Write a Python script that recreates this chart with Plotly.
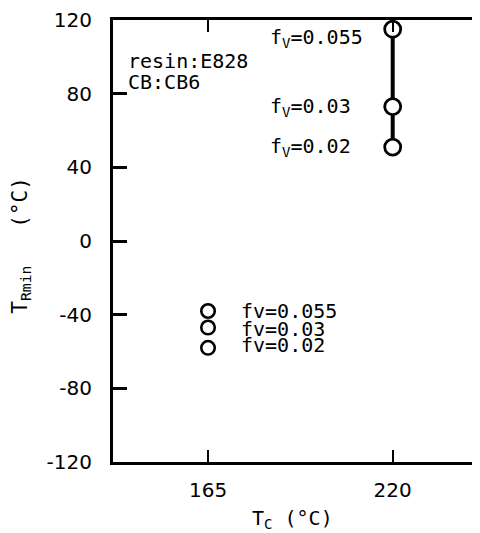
import plotly.graph_objects as go

# Data
tc_high = [220, 220, 220]
tr_high = [115, 73, 51]
labels_high = ["f<sub>V</sub>=0.055", "f<sub>V</sub>=0.03", "f<sub>V</sub>=0.02"]

tc_low = [165, 165, 165]
tr_low = [-38, -47, -58]
labels_low = ["fv=0.055", "fv=0.03", "fv=0.02"]

y_ticks = [120, 80, 40, 0, -40, -80, -120]
y_tick_labels = ["120", "80", "40", "0", "-40", "-80", "-120"]
x_ticks = [165, 220]
x_tick_labels = ["165", "220"]

FONT = "DejaVu Sans Mono"
TICKFONT = "DejaVu Sans"

fig = go.Figure()
fig.add_trace(go.Scatter(
    x=tc_high, y=tr_high, mode="lines+markers",
    line=dict(color="black", width=4),
    marker=dict(symbol="circle", size=16, color="white",
                line=dict(color="black", width=2.8)),
    showlegend=False, hoverinfo="skip"))
fig.add_trace(go.Scatter(
    x=tc_low, y=tr_low, mode="markers",
    marker=dict(symbol="circle", size=13.5, color="white",
                line=dict(color="black", width=2.6)),
    showlegend=False, hoverinfo="skip"))
# invisible trace for right y-axis ticks
fig.add_trace(go.Scatter(x=[tc_low[0]], y=[tr_low[0]], yaxis="y2", mode="markers",
                         marker=dict(opacity=0), showlegend=False, hoverinfo="skip"))

annotations = []
hi_label_y = [110.3, 72.5, 51]
for txt, yy in zip(labels_high, hi_label_y):
    annotations.append(dict(x=183.0, y=yy, xref="x", yref="y", text=txt,
                            showarrow=False, xanchor="left", yanchor="middle",
                            font=dict(family=FONT, size=20, color="black")))
lo_label_y = [-38.0, -48.0, -56.5]
for txt, yy in zip(labels_low, lo_label_y):
    annotations.append(dict(x=174.3, y=yy, xref="x", yref="y", text=txt,
                            showarrow=False, xanchor="left", yanchor="middle",
                            font=dict(family=FONT, size=20, color="black")))
annotations.append(dict(x=140.6, y=98.0, xref="x", yref="y", text="resin:E828",
                        showarrow=False, xanchor="left", yanchor="middle",
                        font=dict(family=FONT, size=20, color="black")))
annotations.append(dict(x=140.6, y=86.5, xref="x", yref="y", text="CB:CB6",
                        showarrow=False, xanchor="left", yanchor="middle",
                        font=dict(family=FONT, size=20, color="black")))
# axis titles
annotations.append(dict(x=-0.25, y=0.49, xref="paper", yref="paper",
                        text="T<sub>Rmin</sub>   (°C)", textangle=-90,
                        showarrow=False, xanchor="center", yanchor="middle",
                        font=dict(family=FONT, size=21, color="black")))
annotations.append(dict(x=0.488, y=-0.128, xref="paper", yref="paper",
                        text="T<sub>C</sub> (°C)",
                        showarrow=False, xanchor="center", yanchor="middle",
                        font=dict(family=FONT, size=20, color="black")))

fig.update_layout(
    width=472, height=525,
    margin=dict(l=105, r=0, t=8, b=71),
    paper_bgcolor="white", plot_bgcolor="white",
    font=dict(family=FONT, size=20, color="black"),
    xaxis=dict(range=[136.7, 246], tickvals=x_ticks, ticktext=x_tick_labels,
               ticks="inside", ticklen=12,
               tickwidth=2, tickcolor="black", showline=True, linecolor="black",
               linewidth=2.5, mirror="ticks", showgrid=False, zeroline=False,
               ticklabelstandoff=8,
               tickfont=dict(family=TICKFONT, size=20, color="black")),
    yaxis=dict(range=[-120, 120], tickvals=y_ticks, ticktext=y_tick_labels,
               ticks="inside", ticklen=14,
               tickwidth=2.5, tickcolor="black", showline=True, linecolor="black",
               linewidth=3, showgrid=False, zeroline=False,
               ticklabelstandoff=14, ticklabeloverflow="allow",
               tickfont=dict(family=TICKFONT, size=20, color="black")),
    yaxis2=dict(range=[-120, 120], tickvals=y_ticks, ticks="inside", ticklen=7,
                tickwidth=2, tickcolor="black", showline=False, overlaying="y",
                side="right", showticklabels=False, showgrid=False, zeroline=False),
    annotations=annotations,
)

fig.write_html("out.html")
